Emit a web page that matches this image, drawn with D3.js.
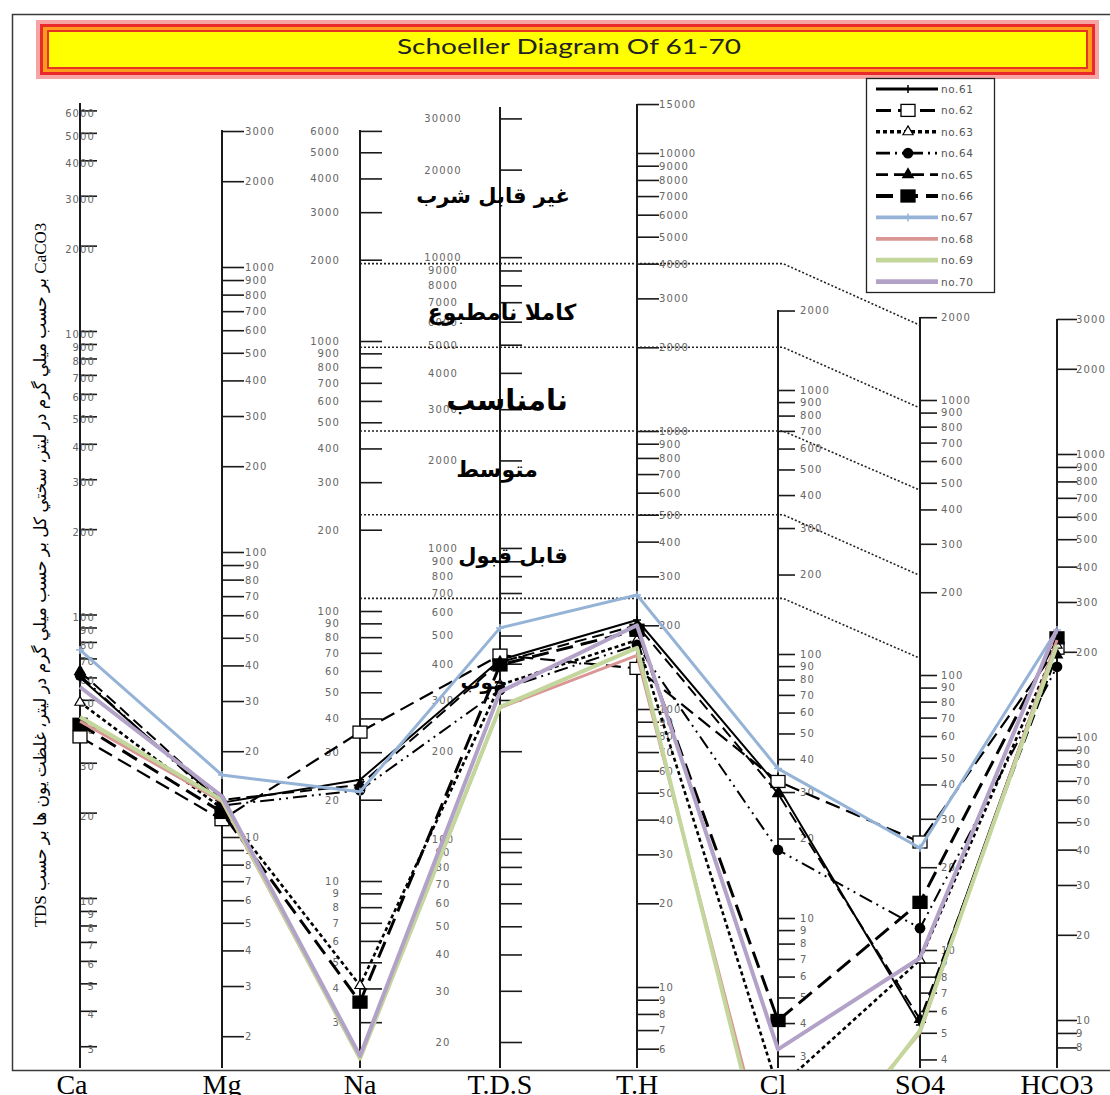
<!DOCTYPE html>
<html><head><meta charset="utf-8">
<script src="https://cdn.jsdelivr.net/npm/d3@7"></script>
<style>body{margin:0;background:#fff}</style>
</head><body>
<svg id="c" width="1110" height="1095"></svg>
<script>
// ---------- DATA ----------
const title = "Schoeller Diagram Of 61-70";
const categories = ["Ca","Mg","Na","T.D.S","T.H","Cl","SO4","HCO3"];
const seriesNames = ["no.61","no.62","no.63","no.64","no.65","no.66","no.67","no.68","no.69","no.70"];
// values in mg/L (TH as CaCO3), order = categories
const no61 = [60, 13.2, 23.7, 412, 209, 31.5, 5.34, 217];
const no62 = [37, 11.5, 35.6, 428, 140, 32.9, 24.7, 206];
const no63 = [49, 12.6, 4.1, 338, 177, 2.26, 9.2, 211];
const no64 = [61, 12.9, 21.7, 325, 170, 18.1, 12.0, 177];
const no65 = [63, 13.5, 22.7, 405, 200, 29.6, 5.6, 195];
const no66 = [41, 12.2, 3.56, 396, 192, 4.09, 14.9, 224];
const no67 = [75, 16.5, 21.4, 531, 257, 36.8, 23.5, 239];
const no68 = [42, 13.3, 2.2, 282, 156, 0.84, 5.0, 220];
const no69 = [43.5, 13.5, 2.2, 284, 166, 0.74, 5.1, 211];
const no70 = [55.5, 13.9, 2.25, 320, 200, 3.18, 9.35, 241];
const seriesValues = [no61,no62,no63,no64,no65,no66,no67,no68,no69,no70];

const caTicks = [6000,5000,4000,3000,2000,1000,900,800,700,600,500,400,300,200,100,90,80,70,60,50,40,30,20,10,9,8,7,6,5,4,3];
const mgTicks = [3000,2000,1000,900,800,700,600,500,400,300,200,100,90,80,70,60,50,40,30,20,10,9,8,7,6,5,4,3,2];
const naTicks = [6000,5000,4000,3000,2000,1000,900,800,700,600,500,400,300,200,100,90,80,70,60,50,40,30,20,10,9,8,7,6,5,4,3];
const tdsTicks = [30000,20000,10000,9000,8000,7000,6000,5000,4000,3000,2000,1000,900,800,700,600,500,400,300,200,100,90,80,70,60,50,40,30,20];
const thTicks = [15000,10000,9000,8000,7000,6000,5000,4000,3000,2000,1000,900,800,700,600,500,400,300,200,100,90,80,70,60,50,40,30,20,10,9,8,7,6];
const clTicks = [2000,1000,900,800,700,600,500,400,300,200,100,90,80,70,60,50,40,30,20,10,9,8,7,6,5,4,3];
const so4Ticks = [2000,1000,900,800,700,600,500,400,300,200,100,90,80,70,60,50,40,30,20,10,9,8,7,6,5,4];
const hco3Ticks = [3000,2000,1000,900,800,700,600,500,400,300,200,100,90,80,70,60,50,40,30,20,10,9,8];
const tickLists = [caTicks,mgTicks,naTicks,tdsTicks,thTicks,clTicks,so4Ticks,hco3Ticks];

// drinking-water class limits: T.H (mg/L CaCO3) and matching SO4 (mg/L)
const qualityTH = [250, 500, 1000, 2000, 4000];
const qualitySO4 = [115, 230, 470, 935, 1870];
const qualityLabels = ["خوب","قابل قبول","متوسط","نامناسب","كاملا نامطبوع","غير قابل شرب"];
const yTitle = "CaCO3 بر حسب ميلي گرم در ليتر، سختي كل بر حسب ميلي گرم در ليتر، غلظت يون ها بر حسب TDS";

// ---------- LAYOUT ----------
const svg = d3.select("#c");
const BOTTOM = 1068;
svg.append("rect").attr("width",1110).attr("height",1095).attr("fill","#fff");
svg.append("rect").attr("x",12.5).attr("y",14.5).attr("width",1110).attr("height",1056)
  .attr("fill","none").attr("stroke","#3a3a3a").attr("stroke-width",1.5);

// title banner
const tb = svg.append("g");
tb.append("rect").attr("x",36).attr("y",20).attr("width",1063).attr("height",59).attr("fill","#f6a4a4");
tb.append("rect").attr("x",40).attr("y",24).attr("width",1055).attr("height",51).attr("fill","#ea2a2a");
tb.append("rect").attr("x",43).attr("y",27).attr("width",1049).attr("height",45).attr("fill","#ff9c1c");
tb.append("rect").attr("x",47).attr("y",30).attr("width",1041).attr("height",39).attr("fill","#e63324");
tb.append("rect").attr("x",49).attr("y",32).attr("width",1037).attr("height",35).attr("fill","#ffff00");
tb.append("text").attr("x",569).attr("y",54).attr("text-anchor","middle")
  .attr("font-family","Lato, 'Open Sans', sans-serif").attr("font-size",21).attr("fill","#222")
  .attr("textLength",344).attr("lengthAdjust","spacingAndGlyphs").text(title);

// axes configuration (layout)
const axesCfg = [
  {x:80,   top:103, d:[10,1000], r:[898,331],  tick:17, lx:15,  anchor:"end",   dy:3},
  {x:222,  top:130, d:[10,100],  r:[837,552],  tick:22, lx:23,  anchor:"start", dy:0},
  {x:360,  top:130, d:[10,1000], r:[881,341],  tick:22, lx:-20, anchor:"end",   dy:0},
  {x:500,  top:107, d:[20,700],  r:[1042,593], tick:22, lx:-57, anchor:"middle",dy:0},
  {x:637,  top:104, d:[10,1000], r:[987,431],  tick:22, lx:22,  anchor:"start", dy:0},
  {x:778,  top:310, d:[10,100],  r:[918,654],  tick:17, lx:22,  anchor:"start", dy:0},
  {x:920,  top:317, d:[10,100],  r:[950,675],  tick:17, lx:21,  anchor:"start", dy:0},
  {x:1057, top:319, d:[10,1000], r:[1020,454], tick:20, lx:19,  anchor:"start", dy:0}
];
const scales = axesCfg.map(c => d3.scaleLog().domain(c.d).range(c.r));

axesCfg.forEach((c,i) => {
  const g = svg.append("g").attr("transform",`translate(${c.x},0)`);
  g.call(d3.axisRight(scales[i]).tickValues(tickLists[i]).tickSize(c.tick).tickFormat(d => String(d)));
  g.select(".domain").remove();
  g.attr("font-family","'DejaVu Sans', sans-serif").attr("font-size",10);
  g.selectAll(".tick line").attr("stroke","#1a1a1a").attr("stroke-width",1.6);
  g.selectAll(".tick text").attr("x",c.lx).attr("text-anchor",c.anchor)
    .attr("dy",(0.34*10 + c.dy)+"px").attr("fill","#666").attr("letter-spacing",1.1);
  g.append("line").attr("x1",0).attr("x2",0).attr("y1",c.top).attr("y2",BOTTOM)
    .attr("stroke","#1a1a1a").attr("stroke-width",2);
});

// quality dotted lines
const qx0 = axesCfg[2].x, qx1 = axesCfg[5].x + 5, qx2 = axesCfg[6].x;
qualityTH.forEach((v,i) => {
  const y1 = scales[4](v), y2 = scales[6](qualitySO4[i]);
  svg.append("path").attr("d",`M${qx0},${y1}H${qx1}L${qx2},${y2}`)
    .attr("fill","none").attr("stroke","#222").attr("stroke-width",1.6).attr("stroke-dasharray","2,2");
});

// y title
svg.append("text").attr("transform","translate(46,575) rotate(-90)").attr("text-anchor","middle")
  .attr("direction","rtl").attr("font-family","'Liberation Serif', 'DejaVu Sans', serif")
  .attr("font-size",17).attr("fill","#000").text(yTitle);

// category labels
categories.forEach((c,i) => {
  svg.append("text").attr("x",axesCfg[i].x + (i===0?-8:(i===5?-5:0))).attr("y",1094)
    .attr("text-anchor","middle").attr("font-family","'Liberation Serif', serif")
    .attr("font-size",28).attr("fill","#000").text(c);
});

// ---------- SERIES ----------
const styles = [
  {color:"#000", w:2,   dash:null,               marker:"plus"},
  {color:"#000", w:2.2, dash:"15,7",             marker:"osquare"},
  {color:"#000", w:2.6, dash:"4,3",              marker:"otri"},
  {color:"#000", w:2,   dash:"14,5,2,5,2,5",     marker:"circle"},
  {color:"#000", w:2,   dash:"12,6",             marker:"tri"},
  {color:"#000", w:3,   dash:"17,8",             marker:"square"},
  {color:"#95b3d7", w:3, dash:null,              marker:"plus"},
  {color:"#d99694", w:3, dash:null,              marker:null},
  {color:"#c3d69b", w:4, dash:null,              marker:null},
  {color:"#b3a2c7", w:4, dash:null,              marker:null}
];
svg.append("clipPath").attr("id","clip").append("rect").attr("x",13).attr("y",15).attr("width",1100).attr("height",1055);
const plot = svg.append("g").attr("clip-path","url(#clip)");
const line = d3.line();

function drawMarker(g, type, x, y, color){
  if(!type) return;
  if(type==="plus"){
    g.append("path").attr("d",`M${x-4},${y}H${x+4}M${x},${y-4}V${y+4}`).attr("stroke",color).attr("stroke-width",1.5);
  } else if(type==="osquare" || type==="square"){
    g.append("rect").attr("x",x-7).attr("y",y-6).attr("width",14).attr("height",12)
      .attr("fill",type==="square"?"#000":"#fff").attr("stroke","#000").attr("stroke-width",1.3);
  } else if(type==="circle"){
    g.append("path").attr("transform",`translate(${x},${y})`).attr("d",d3.symbol(d3.symbolCircle,90)()).attr("fill","#000");
  } else if(type==="tri"){
    g.append("path").attr("transform",`translate(${x},${y})`).attr("d",d3.symbol(d3.symbolTriangle,70)()).attr("fill","#000");
  } else if(type==="otri"){
    g.append("path").attr("transform",`translate(${x},${y})`).attr("d",d3.symbol(d3.symbolTriangle,45)())
      .attr("fill","#fff").attr("stroke","#000").attr("stroke-width",1.2);
  }
}

seriesValues.forEach((vals,s) => {
  const st = styles[s];
  const pts = vals.map((v,j) => [axesCfg[j].x, scales[j](v)]);
  plot.append("path").attr("d",line(pts)).attr("fill","none").attr("stroke",st.color)
    .attr("stroke-width",st.w).attr("stroke-dasharray",st.dash).attr("stroke-linejoin","round");
  pts.forEach(p => drawMarker(plot, st.marker, p[0], p[1], st.color));
});

// zone labels (drawn over the lines, as in the reference)
const zonePos = [[484,689,20],[513,563,21],[497,477,22],[507,410,29],[502,320,22],[493,203,21]];
qualityLabels.forEach((t,i) => {
  svg.append("text").attr("x",zonePos[i][0]).attr("y",zonePos[i][1]).attr("text-anchor","middle")
    .attr("font-family","'DejaVu Sans', sans-serif").attr("font-weight","bold")
    .attr("font-size",zonePos[i][2]).attr("fill","#000").attr("direction","rtl").text(t);
});

// ---------- LEGEND ----------
const lg = svg.append("g");
lg.append("rect").attr("x",866.5).attr("y",78.5).attr("width",128).attr("height",214)
  .attr("fill","#fff").attr("stroke","#222").attr("stroke-width",1.3);
seriesNames.forEach((n,i) => {
  const y = 89 + i*21.4, st = styles[i];
  lg.append("line").attr("x1",876).attr("x2",938).attr("y1",y).attr("y2",y).attr("stroke",st.color)
    .attr("stroke-width",st.w + 0.8).attr("stroke-dasharray",st.dash);
  drawMarker(lg, st.marker, 908, y, st.color);
  lg.append("text").attr("x",941).attr("y",y+4).attr("font-family","'DejaVu Sans', sans-serif")
    .attr("font-size",10.5).attr("fill","#555").attr("letter-spacing",0.6).text(n);
});
</script>
</body></html>
